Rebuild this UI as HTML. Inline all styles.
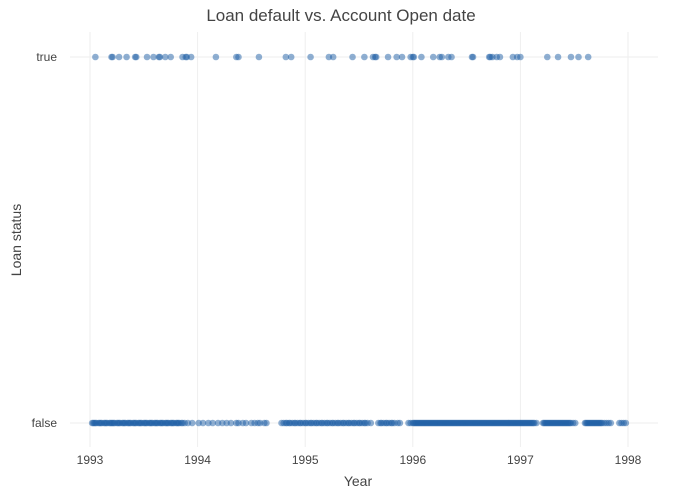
<!DOCTYPE html>
<html><head><meta charset="utf-8"><style>
body{margin:0;background:#fff;font-family:"Liberation Sans",sans-serif}
svg{display:block}
</style></head><body>
<svg id="chart" width="683" height="498" xmlns="http://www.w3.org/2000/svg">
<text x="341" y="21" text-anchor="middle" font-size="17" fill="#444" font-family="Liberation Sans, sans-serif">Loan default vs. Account Open date</text>
<g id="grid"></g>
<g id="xticks"></g>
<g id="yticks"></g>
<g id="points"></g>
<text x="358" y="486" text-anchor="middle" font-size="14" fill="#444">Year</text>
<text x="21" y="240" text-anchor="middle" font-size="14" fill="#444" transform="rotate(-90 21 240)">Loan status</text>
</svg>
<script>
const xTicks=[1993,1994,1995,1996,1997,1998];
const yCategories=["false","true"];
const trueDates=[1993.05,1993.20,1993.21,1993.27,1993.34,1993.42,1993.43,1993.53,1993.59,1993.64,1993.65,1993.70,1993.75,1993.86,1993.89,1993.90,1993.94,1994.17,1994.36,1994.38,1994.57,1994.82,1994.87,1995.05,1995.22,1995.26,1995.44,1995.55,1995.63,1995.65,1995.66,1995.77,1995.85,1995.90,1995.98,1996.00,1996.01,1996.08,1996.19,1996.25,1996.27,1996.33,1996.36,1996.55,1996.56,1996.71,1996.72,1996.74,1996.78,1996.81,1996.93,1996.97,1997.00,1997.25,1997.35,1997.47,1997.54,1997.63];
const falseDates=[1993.02,1993.03,1993.04,1993.05,1993.06,1993.08,1993.09,1993.10,1993.11,1993.13,1993.14,1993.15,1993.16,1993.18,1993.19,1993.20,1993.21,1993.22,1993.23,1993.25,1993.26,1993.27,1993.28,1993.30,1993.31,1993.32,1993.33,1993.35,1993.36,1993.37,1993.38,1993.40,1993.41,1993.42,1993.43,1993.45,1993.46,1993.47,1993.48,1993.50,1993.51,1993.52,1993.53,1993.55,1993.56,1993.57,1993.58,1993.60,1993.61,1993.62,1993.63,1993.65,1993.66,1993.67,1993.68,1993.70,1993.71,1993.72,1993.73,1993.75,1993.76,1993.77,1993.78,1993.80,1993.81,1993.82,1993.83,1993.85,1993.86,1993.88,1993.91,1993.95,1994.01,1994.05,1994.1,1994.14,1994.19,1994.23,1994.27,1994.31,1994.36,1994.38,1994.42,1994.45,1994.5,1994.53,1994.56,1994.58,1994.62,1994.64,1994.78,1994.8,1994.82,1994.83,1994.85,1994.86,1994.88,1994.90,1994.91,1994.93,1994.95,1994.96,1994.98,1995.00,1995.01,1995.03,1995.05,1995.06,1995.08,1995.10,1995.11,1995.13,1995.15,1995.16,1995.18,1995.20,1995.21,1995.23,1995.25,1995.26,1995.28,1995.30,1995.31,1995.33,1995.35,1995.36,1995.38,1995.40,1995.41,1995.43,1995.45,1995.46,1995.48,1995.50,1995.51,1995.53,1995.55,1995.56,1995.58,1995.61,1995.68,1995.70,1995.71,1995.73,1995.75,1995.76,1995.78,1995.80,1995.81,1995.83,1995.86,1995.88,1995.96,1995.98,1996.00,1996.01,1996.02,1996.03,1996.04,1996.05,1996.06,1996.07,1996.08,1996.09,1996.10,1996.11,1996.12,1996.13,1996.14,1996.15,1996.16,1996.17,1996.18,1996.19,1996.20,1996.21,1996.22,1996.23,1996.24,1996.25,1996.26,1996.27,1996.28,1996.29,1996.30,1996.31,1996.32,1996.33,1996.34,1996.35,1996.36,1996.37,1996.38,1996.39,1996.40,1996.41,1996.42,1996.43,1996.44,1996.45,1996.46,1996.47,1996.48,1996.49,1996.50,1996.51,1996.52,1996.53,1996.54,1996.55,1996.56,1996.57,1996.58,1996.59,1996.60,1996.61,1996.62,1996.63,1996.64,1996.65,1996.66,1996.67,1996.68,1996.69,1996.70,1996.71,1996.72,1996.73,1996.74,1996.75,1996.76,1996.77,1996.78,1996.79,1996.80,1996.81,1996.82,1996.83,1996.84,1996.85,1996.86,1996.87,1996.88,1996.89,1996.90,1996.91,1996.92,1996.93,1996.94,1996.95,1996.96,1996.97,1996.98,1996.99,1997.00,1997.01,1997.02,1997.03,1997.04,1997.05,1997.06,1997.07,1997.08,1997.09,1997.10,1997.11,1997.12,1997.13,1997.15,1997.21,1997.22,1997.23,1997.24,1997.25,1997.26,1997.27,1997.28,1997.29,1997.30,1997.31,1997.32,1997.33,1997.34,1997.35,1997.36,1997.37,1997.38,1997.39,1997.40,1997.41,1997.42,1997.43,1997.44,1997.45,1997.46,1997.47,1997.49,1997.51,1997.6,1997.61,1997.62,1997.63,1997.64,1997.65,1997.66,1997.67,1997.68,1997.69,1997.7,1997.71,1997.72,1997.73,1997.74,1997.75,1997.76,1997.78,1997.8,1997.82,1997.84,1997.92,1997.94,1997.96,1997.98];
const NS="http://www.w3.org/2000/svg";
const X=v=>90+(v-1993)*107.6;
const Y=c=>c==="true"?57:423;
const mk=(t,a)=>{const e=document.createElementNS(NS,t);for(const k in a)e.setAttribute(k,a[k]);return e;};
const grid=document.getElementById('grid'),xt=document.getElementById('xticks'),yt=document.getElementById('yticks'),pts=document.getElementById('points');
xTicks.forEach(v=>{
 const l=mk('line',{x1:X(v),x2:X(v),y1:32,y2:447,stroke:'#eee','stroke-width':1});
 
 
 grid.appendChild(l);
 const t=mk('text',{x:X(v),y:464,'text-anchor':'middle','font-size':12,fill:'#444'});
 
 
 t.textContent=v;xt.appendChild(t);
});
yCategories.forEach(c=>{
 const l=mk('line',{x1:70,x2:658,y1:Y(c),y2:Y(c),stroke:'#eee','stroke-width':1});
 
 
 grid.appendChild(l);
 const t=mk('text',{x:57,y:Y(c)+4,'text-anchor':'end','font-size':12,fill:'#444'});
 
 
 t.textContent=c;yt.appendChild(t);
});
function draw(arr,cat){arr.forEach(v=>{
 const p=mk('circle',{cx:X(v),cy:Y(cat),r:3.3,fill:'rgb(31,95,165)','fill-opacity':0.5});
 
 
 pts.appendChild(p);});}
draw(trueDates,'true');draw(falseDates,'false');
</script>
</body></html>
